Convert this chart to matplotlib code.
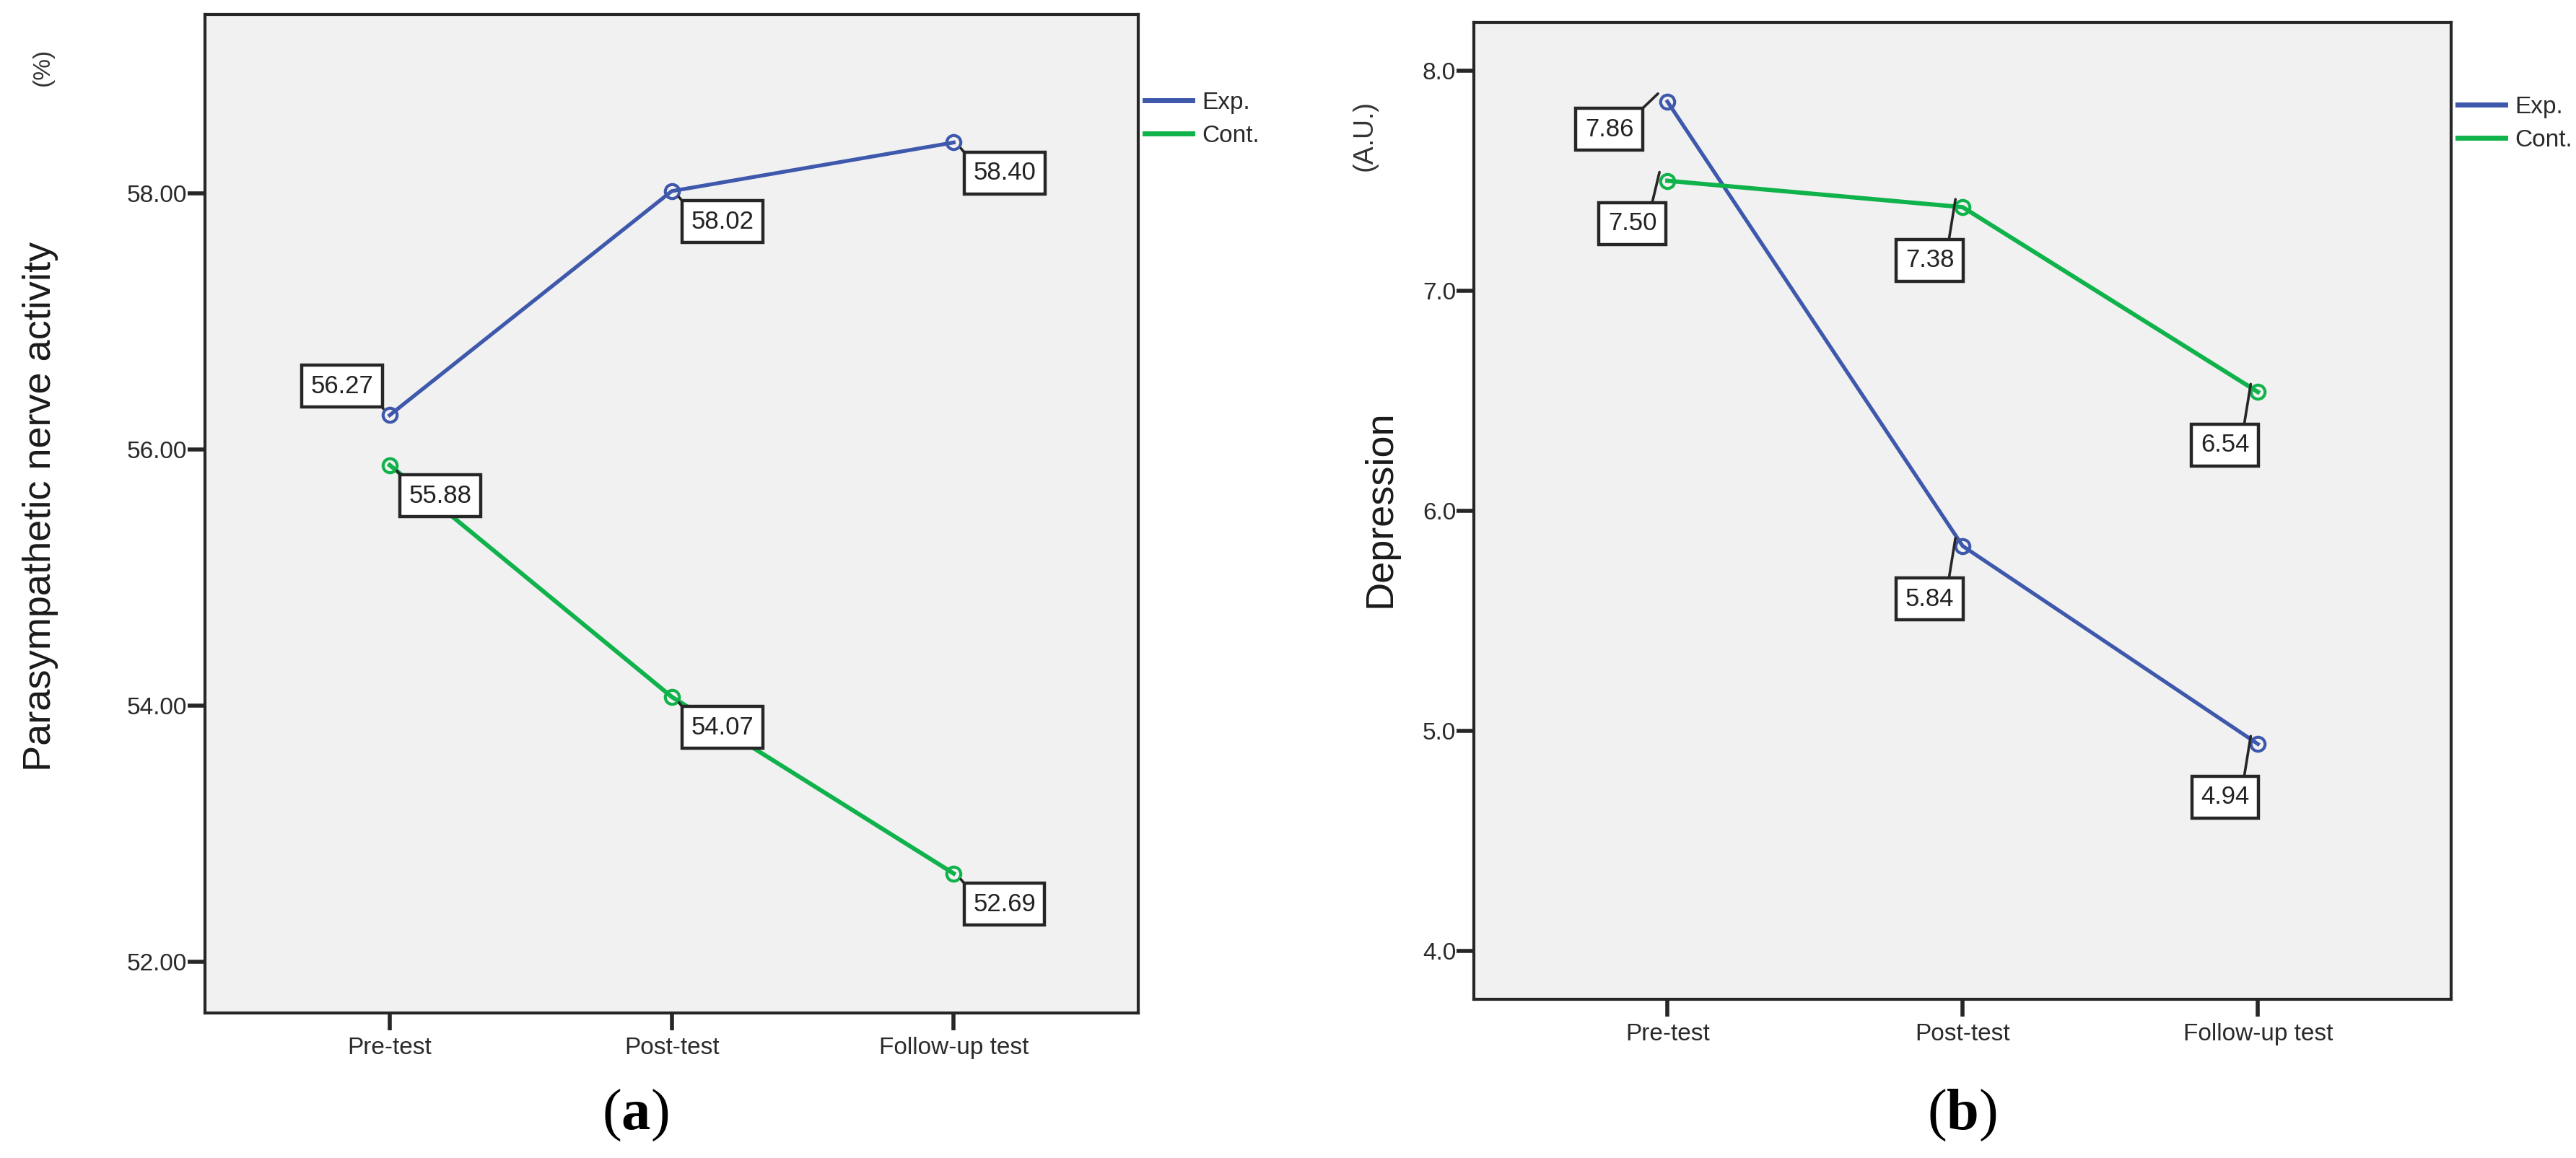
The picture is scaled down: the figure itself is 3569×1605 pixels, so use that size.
import matplotlib
matplotlib.use("Agg")
import matplotlib.pyplot as plt
from matplotlib.lines import Line2D
from matplotlib.transforms import offset_copy

# ---------------- data ----------------
timepoints = ["Pre-test", "Post-test", "Follow-up test"]
groups = ["Exp.", "Cont."]
para_exp = [56.27, 58.02, 58.40]
para_cont = [55.88, 54.07, 52.69]
dep_exp = [7.86, 5.84, 4.94]
dep_cont = [7.50, 7.38, 6.54]
para_ticks = [52, 54, 56, 58]
dep_ticks = [4, 5, 6, 7, 8]

# ---------------- style ----------------
SANS = ["Liberation Sans", "DejaVu Sans"]
SERIF = ["Liberation Serif", "DejaVu Serif"]
plt.rcParams["mathtext.fontset"] = "custom"
plt.rcParams["mathtext.rm"] = "Liberation Serif"
plt.rcParams["mathtext.bf"] = "Liberation Serif:bold"

COLORS = {"Exp.": "#3E58AC", "Cont.": "#10B24B"}
LW = {"Exp.": 3.8, "Cont.": 4.3}
DARK = "#262626"
DPI = 100

# label box placements: text offset (pt), ha, va, leader start (pt), leader end (pt)
PLACE = {
    "ul":  ((-16.5, 17.2), "right", "bottom", (-7.9, 8.6), (-6.5, 6.5)),
    "lr":  ((19.4, -18.7), "left", "top", (10.8, -10.1), (7.2, -5.8)),
    "far": ((-33.8, -15.8), "right", "top", (-25.2, -7.2), (-9.4, 7.9)),
    "mid": ((-10.7, -30.9), "right", "top", (-15.1, -21.6), (-7.9, 8.6)),
    "std": ((-8.6, -41.0), "right", "top", (-13.7, -32.4), (-7.2, 7.9)),
}
para_place = {"Exp.": ["ul", "lr", "lr"], "Cont.": ["lr", "lr", "lr"]}
dep_place = {"Exp.": ["far", "std", "std"], "Cont.": ["mid", "std", "std"]}

fig = plt.figure(figsize=(3569 / DPI, 1605 / DPI), dpi=DPI)
axA = fig.add_axes([0.0796, 0.1252, 0.3623, 0.8623])
axB = fig.add_axes([0.5722, 0.1371, 0.3794, 0.8436])


def style(ax, ylim, yticks, fmt):
    ax.set_facecolor("#F1F1F1")
    for s in ax.spines.values():
        s.set_linewidth(3)
        s.set_color(DARK)
    ax.set_xlim(-0.655, 2.655)
    ax.set_ylim(*ylim)
    ax.set_xticks(range(len(timepoints)))
    ax.set_xticklabels(timepoints)
    ax.set_yticks(yticks)
    ax.set_yticklabels([fmt % t for t in yticks])
    ax.tick_params(axis="both", direction="out", length=17, width=4,
                   color=DARK, labelsize=24, labelcolor="#2a2a2a")
    ax.tick_params(axis="y", pad=1)
    ax.tick_params(axis="x", pad=7)
    for lab in ax.get_xticklabels() + ax.get_yticklabels():
        lab.set_fontfamily(SANS)


def leader(ax, x, y, start, end):
    tr = offset_copy(ax.transData, fig=fig, x=end[0], y=end[1], units="points")
    ax.annotate("", xy=(x, y), xycoords=tr,
                xytext=(start[0] - end[0], start[1] - end[1]),
                textcoords="offset points",
                arrowprops=dict(arrowstyle="-", color=DARK, lw=2.6,
                                shrinkA=0, shrinkB=0),
                zorder=4, annotation_clip=False)


def draw_panel(ax, series, places, fmt_box):
    xs = list(range(len(timepoints)))
    for g, vals in series.items():
        ax.plot(xs, vals, color=COLORS[g], lw=LW[g], marker="o", ms=14,
                mfc="none", mew=3, zorder=3)
        for x, v, p in zip(xs, vals, places[g]):
            off, ha, va, s, e = PLACE[p]
            leader(ax, x, v, s, e)
            ax.annotate(fmt_box % v, xy=(x, v), xytext=off,
                        textcoords="offset points", ha=ha, va=va,
                        fontsize=25, family=SANS, color="#222222",
                        bbox=dict(boxstyle="square,pad=0.36", fc="white",
                                  ec=DARK, lw=3.2),
                        zorder=5, annotation_clip=False)


style(axA, (51.6, 59.4), para_ticks, "%.2f")
style(axB, (3.78, 8.22), dep_ticks, "%.1f")
draw_panel(axA, {"Exp.": para_exp, "Cont.": para_cont}, para_place, "%.2f")
draw_panel(axB, {"Exp.": dep_exp, "Cont.": dep_cont}, dep_place, "%.2f")

handles = [Line2D([], [], color=COLORS[g], lw=5) for g in groups]
for ax, anchor in ((axA, (1.007, 0.923)), (axB, (1.0066, 0.925))):
    ax.legend(handles, groups, loc="upper left", bbox_to_anchor=anchor,
              frameon=False, prop=dict(family=SANS, size=24),
              handlelength=1.98, handletextpad=0.4, labelspacing=0.45,
              borderaxespad=0, borderpad=0, labelcolor="#2a2a2a")

# axis titles
fig.text(0.0157, 0.563, "Parasympathetic nerve activity", rotation=90,
         ha="center", va="center", fontsize=39, family=SANS, color="#1a1a1a")
fig.text(0.0165, 0.942, "(%)", rotation=90, ha="center", va="center",
         fontsize=24, family=SANS, color="#333333")
fig.text(0.536, 0.5607, "Depression", rotation=90, ha="center", va="center",
         fontsize=39, family=SANS, color="#1a1a1a")
fig.text(0.5298, 0.8829, "(A.U.)", rotation=90, ha="center", va="center",
         fontsize=27, family=SANS, color="#333333")

# panel labels: regular parentheses, bold letter
for xc, letter in ((0.2466, "a"), (0.7618, "b")):
    fig.text(xc, 0.037, "(" + r"$\mathbf{" + letter + "}$" + ")",
             ha="center", va="center", fontsize=58, family=SERIF,
             color="black")

fig.savefig("out.png", dpi=DPI, facecolor="white")
